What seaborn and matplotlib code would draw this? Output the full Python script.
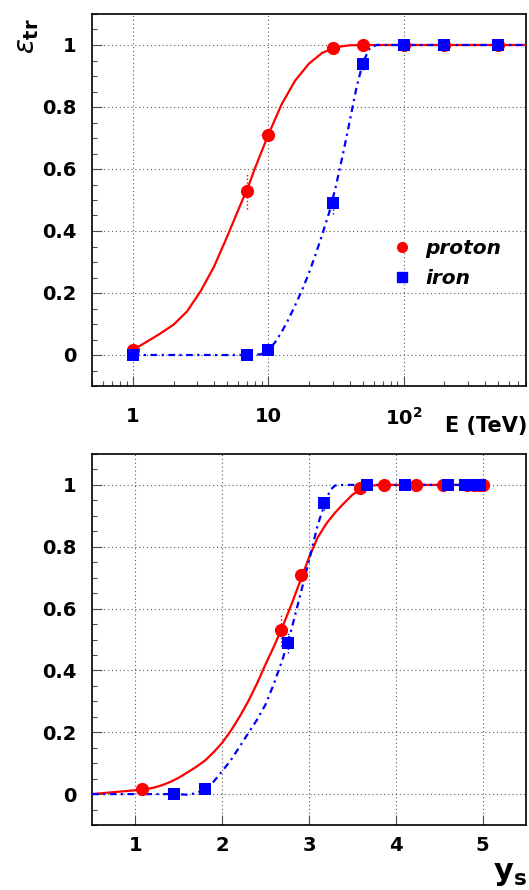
import numpy as np
import matplotlib
matplotlib.use('Agg')
import matplotlib.pyplot as plt
from matplotlib.lines import Line2D
from matplotlib.ticker import MultipleLocator, LogLocator, NullLocator, NullFormatter
import seaborn as sns

# ---- top panel: trigger efficiency vs primary energy (TeV) ----
energy_p = [1, 7, 10, 30, 50, 100, 200, 500]
eff_p = [0.015, 0.53, 0.71, 0.99, 1.0, 1.0, 1.0, 1.0]
err_p = [0.0, 0.06, 0.01, 0.0, 0.0, 0.0, 0.0, 0.0]
energy_fe = [1, 7, 10, 30, 50, 100, 200, 500]
eff_fe = [0.0, 0.0, 0.015, 0.49, 0.94, 1.0, 1.0, 1.0]
err_fe = [0.0, 0.0, 0.0, 0.035, 0.02, 0.0, 0.0, 0.0]

# fitted curves
fit_e_p = [1.0, 1.26, 1.58, 2.0, 2.51, 3.16, 3.98, 5.01, 6.31, 7.08, 7.94, 10, 12.6, 15.8, 20.0,
           25.1, 31.6, 39.8, 50.1, 800]
fit_eff_p = [0.016, 0.042, 0.068, 0.098, 0.14, 0.205, 0.285, 0.385, 0.49, 0.54, 0.60, 0.71, 0.81,
             0.885, 0.94, 0.975, 0.993, 0.999, 1.0, 1.0]
fit_e_fe = [1.0, 7.94, 8.91, 10, 11.2, 12.6, 14.1, 15.8, 17.8, 20.0, 22.4, 25.1, 28.2, 31.6, 35.5,
            39.8, 44.7, 50.1, 56.2, 63.1, 800]
fit_eff_fe = [0.0, 0.0, 0.003, 0.016, 0.04, 0.075, 0.115, 0.16, 0.21, 0.265, 0.325, 0.39, 0.46,
              0.545, 0.645, 0.75, 0.86, 0.945, 0.99, 1.0, 1.0]

# ---- bottom panel: trigger efficiency vs shower size y_s ----
ys_p = [1.08, 2.68, 2.91, 3.59, 3.86, 4.23, 4.54, 4.82, 4.9, 4.96, 5.0]
ys_eff_p = [0.015, 0.53, 0.71, 0.99, 1.0, 1.0, 1.0, 1.0, 1.0, 1.0, 1.0]
ys_err_p = [0.0, 0.05, 0.01, 0.0, 0.0, 0.0, 0.0, 0.0, 0.0, 0.0, 0.0]
ys_fe = [1.45, 1.80, 2.76, 3.17, 3.67, 4.11, 4.60, 4.80, 4.86, 4.92, 4.97]
ys_eff_fe = [0.0, 0.015, 0.49, 0.94, 1.0, 1.0, 1.0, 1.0, 1.0, 1.0, 1.0]
ys_err_fe = [0.0, 0.0, 0.035, 0.02, 0.0, 0.0, 0.0, 0.0, 0.0, 0.0, 0.0]

fit_ys_p = [0.5, 0.7, 0.9, 1.1, 1.2, 1.3, 1.4, 1.5, 1.6, 1.7, 1.8, 1.9, 2.0, 2.1, 2.2, 2.3, 2.4,
            2.5, 2.6, 2.7, 2.8, 2.9, 3.0, 3.1, 3.2, 3.3, 3.4, 3.5, 3.6, 3.7, 3.8, 5.0]
fit_yeff_p = [0.0, 0.005, 0.01, 0.015, 0.02, 0.028, 0.039, 0.053, 0.07, 0.088, 0.108, 0.135,
              0.166, 0.205, 0.25, 0.30, 0.357, 0.42, 0.48, 0.545, 0.615, 0.69, 0.765, 0.83, 0.875,
              0.91, 0.94, 0.968, 0.988, 0.997, 1.0, 1.0]
fit_ys_fe = [0.5, 1.0, 1.45, 1.6, 1.7, 1.8, 1.9, 2.0, 2.1, 2.2, 2.3, 2.4, 2.5, 2.6, 2.7, 2.8, 2.9,
             3.0, 3.1, 3.2, 3.25, 3.3, 3.4, 5.0]
fit_yeff_fe = [0.0, 0.0, 0.0, -0.002, 0.003, 0.015, 0.04, 0.074, 0.11, 0.153, 0.197, 0.24, 0.29,
               0.36, 0.44, 0.535, 0.645, 0.755, 0.87, 0.955, 0.985, 0.998, 1.0, 1.0]

RED = '#ff0000'
BLUE = '#0000ff'

sns.set_style('white')
plt.rcParams['font.family'] = ['DejaVu Sans']
plt.rcParams['mathtext.fontset'] = 'dejavusans'
plt.rcParams['text.color'] = 'black'
plt.rcParams['xtick.color'] = 'black'
plt.rcParams['ytick.color'] = 'black'

fig = plt.figure(figsize=(5.29, 8.90), dpi=100)
ax_top = fig.add_axes([92 / 529, 1 - 386 / 890, 434 / 529, 372 / 890])
ax_bot = fig.add_axes([92 / 529, 1 - 825 / 890, 434 / 529, 371 / 890])


def draw_panel(ax, fx_p, fy_p, fx_fe, fy_fe, px_p, py_p, pe_p, px_fe, py_fe, pe_fe):
    sns.lineplot(x=fx_p, y=fy_p, ax=ax, color=RED, lw=1.6, sort=False, zorder=3)
    sns.lineplot(x=fx_fe, y=fy_fe, ax=ax, color=BLUE, lw=1.6, sort=False, zorder=3,
                 linestyle=(0, (3, 2, 1, 2)))
    px_p, py_p, pe_p = map(np.asarray, (px_p, py_p, pe_p))
    px_fe, py_fe, pe_fe = map(np.asarray, (px_fe, py_fe, pe_fe))
    m = pe_p > 0
    ax.vlines(px_p[m], py_p[m] - pe_p[m], py_p[m] + pe_p[m], colors=RED, linestyles=':', lw=1, zorder=3)
    m = pe_fe > 0
    ax.vlines(px_fe[m], py_fe[m] - pe_fe[m], py_fe[m] + pe_fe[m], colors=BLUE, linestyles=':', lw=1, zorder=3)
    sns.scatterplot(x=px_p, y=py_p, ax=ax, color=RED, marker='o', s=90, linewidth=0, zorder=4)
    sns.scatterplot(x=px_fe, y=py_fe, ax=ax, color=BLUE, marker='s', s=72, linewidth=0, zorder=5)

    ax.set_ylim(-0.1, 1.1)
    ax.yaxis.set_major_locator(MultipleLocator(0.2))
    ax.yaxis.set_minor_locator(MultipleLocator(0.05))
    ax.set_yticks([0, 0.2, 0.4, 0.6, 0.8, 1.0])
    ax.set_yticklabels(['0', '0.2', '0.4', '0.6', '0.8', '1'])
    ax.grid(True, which='major', color='0.35', linestyle=(0, (1, 2.5)), lw=0.8)
    ax.tick_params(which='both', direction='in', top=False, right=False, left=True, bottom=True,
                   width=0.8, color='0.3')
    ax.tick_params(which='major', length=7)
    ax.tick_params(which='minor', length=3.5)
    ax.tick_params(axis='y', pad=11, labelsize=14)
    for lbl in ax.get_xticklabels() + ax.get_yticklabels():
        lbl.set_fontweight('bold')
    for sp in ax.spines.values():
        sp.set_linewidth(1.2)
        sp.set_color('black')
    ax.set_xlabel('')
    ax.set_ylabel('')


# top panel
ax_top.set_xscale('log')
draw_panel(ax_top, fit_e_p, fit_eff_p, fit_e_fe, fit_eff_fe,
           energy_p, eff_p, err_p, energy_fe, eff_fe, err_fe)
ax_top.set_xlim(0.5, 800)
ax_top.xaxis.set_major_locator(LogLocator(base=10, numticks=10))
ax_top.xaxis.set_minor_locator(LogLocator(base=10, subs=np.arange(2, 10), numticks=20))
ax_top.xaxis.set_minor_formatter(NullFormatter())
ax_top.set_xticks([1, 10, 100])
ax_top.set_xticklabels(['1', '10', r'$\mathbf{10^{2}}$'], fontweight='bold')
ax_top.tick_params(axis='x', pad=15, labelsize=14)

handles = [Line2D([], [], marker='o', color=RED, linestyle='none', markersize=7),
           Line2D([], [], marker='s', color=BLUE, linestyle='none', markersize=6.5)]
ax_top.legend(handles, ['proton', 'iron'], loc='upper left', bbox_to_anchor=(0.69, 0.395),
              frameon=False, borderpad=0, borderaxespad=0, handlelength=1.0, handletextpad=0.7,
              labelspacing=0.55, prop={'weight': 'bold', 'style': 'italic', 'size': 14.5})

# bottom panel
draw_panel(ax_bot, fit_ys_p, fit_yeff_p, fit_ys_fe, fit_yeff_fe,
           ys_p, ys_eff_p, ys_err_p, ys_fe, ys_eff_fe, ys_err_fe)
ax_bot.set_xlim(0.5, 5.5)
ax_bot.xaxis.set_major_locator(MultipleLocator(1))
ax_bot.xaxis.set_minor_locator(NullLocator())
ax_bot.set_xticks([1, 2, 3, 4, 5])
ax_bot.set_xticklabels(['1', '2', '3', '4', '5'], fontweight='bold')
ax_bot.tick_params(axis='x', pad=8, labelsize=14)

# axis titles
fig.text(27 / 529, 1 - 36 / 890, r'$\varepsilon_{\mathbf{tr}}$', rotation=90, fontsize=20,
         ha='center', va='center')
fig.text(527 / 529, 1 - 426 / 890, 'E (TeV)', fontsize=15, fontweight='bold', ha='right', va='center')
fig.text(527 / 529, 1 - 873 / 890, r'$\mathbf{y_{s}}$', fontsize=22, ha='right', va='center')

fig.savefig('out.png', dpi=100)
